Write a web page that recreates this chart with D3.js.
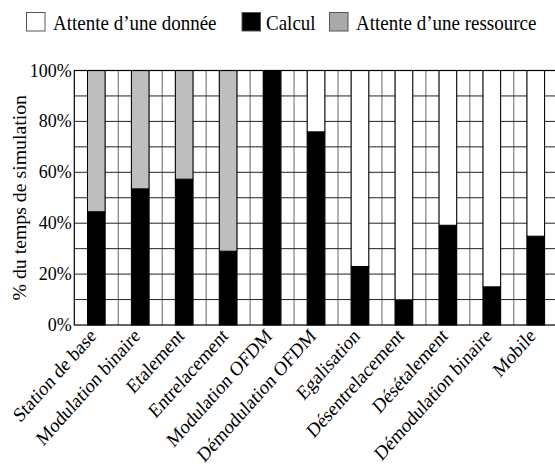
<!DOCTYPE html>
<html><head><meta charset="utf-8">
<script src="https://cdn.jsdelivr.net/npm/d3@7"></script>
<style>body{margin:0;background:#fff}svg{display:block}</style>
</head><body><svg id="c" width="555" height="469"></svg>
<script>
const categories = ["Station de base","Modulation binaire","Etalement","Entrelacement","Modulation OFDM","Démodulation OFDM","Egalisation","Désentrelacement","Désétalement","Démodulation binaire","Mobile"];
const calcul =    [44.5, 53.5, 57.3, 29.0, 100, 75.9, 23.0, 9.9, 39.2, 15.0, 34.9];
const ressource = [55.5, 46.5, 42.7, 71.0, 0, 0, 0, 0, 0, 0, 0];
const donnee =    [0, 0, 0, 0, 0, 24.1, 77.0, 90.1, 60.8, 85.0, 65.1];
const seriesNames = ["Attente d’une donnée","Calcul","Attente d’une ressource"];
const yTicks = [0,20,40,60,80,100];
const yGrid = [10,20,30,40,50,60,70,80,90];
const yLabel = "% du temps de simulation";

const svg = d3.select("#c");
const L = 74.3, T = 70.5, B = 325;
const x = d3.scaleBand().domain(categories).range([L, L + 11*43.95]).paddingInner(0.6).paddingOuter(0.3);
const y = d3.scaleLinear().domain([0,100]).range([B, T]);
const R = L + 11*43.95;

const vx = [];
categories.forEach((c,i)=>{ vx.push(x(c)); vx.push(x(c)+x.bandwidth()); if(i<categories.length-1) vx.push(x(c)+x.bandwidth()+ (x.step()-x.bandwidth())/2); });
svg.append("g").selectAll("line").data(vx).join("line")
  .attr("x1",d=>d).attr("x2",d=>d).attr("y1",T).attr("y2",B)
  .attr("stroke","#666").attr("stroke-width",1);
svg.append("g").selectAll("line").data(yGrid).join("line")
  .attr("x1",L).attr("x2",R).attr("y1",d=>y(d)).attr("y2",d=>y(d))
  .attr("stroke","#222").attr("stroke-width",1);

const rows = categories.map((c,i)=>({cat:c, calcul:calcul[i], ressource:ressource[i], donnee:donnee[i]}));
const stack = d3.stack().keys(["calcul","ressource","donnee"])(rows);
const fills = {calcul:"#000", ressource:"#bebebe", donnee:"#fff"};
stack.forEach(s=>{
  svg.append("g").selectAll("rect").data(s.filter(d=>d[1]-d[0]>0)).join("rect")
    .attr("x",d=>x(d.data.cat)).attr("width",x.bandwidth())
    .attr("y",d=>y(d[1])).attr("height",d=>y(d[0])-y(d[1]))
    .attr("fill",fills[s.key]).attr("stroke","#000").attr("stroke-width",1);
});

svg.append("rect").attr("x",L).attr("y",T).attr("width",R-L).attr("height",B-T)
  .attr("fill","none").attr("stroke","#000").attr("stroke-width",1.2);

const txt = (sel, size) => sel.style("font-family",'"Liberation Serif"').attr("fill","#000").style("font-size",size+"px");

svg.append("g").selectAll("text").data(yTicks).join("text")
  .attr("transform",d=>`translate(${L-2.5},${y(d)+6}) scale(1,1.1)`).attr("text-anchor","end")
  .call(txt,18).text(d=>d+"%");
svg.append("text").attr("transform",`translate(26,${(T+B)/2}) rotate(-90) scale(1.1,1)`)
  .attr("text-anchor","middle").call(txt,18).text(yLabel);

svg.append("g").selectAll("text").data(categories).join("text")
  .attr("transform",d=>`translate(${x(d)+x.bandwidth()/2+1},${B+12}) scale(1,1.12) rotate(-45)`)
  .attr("text-anchor","end").call(txt,18).text(d=>d);

const leg = [{n:seriesNames[0],f:"#fff",bx:26.5,tx:53},{n:seriesNames[1],f:"#000",bx:242,tx:266},{n:seriesNames[2],f:"#aaa",bx:329.5,tx:356}];
leg.forEach(l=>{
  svg.append("rect").attr("x",l.bx).attr("y",12.5).attr("width",18.5).attr("height",18.5)
    .attr("fill",l.f).attr("stroke","#555").attr("stroke-width",1);
  svg.append("text").attr("transform",`translate(${l.tx},30) scale(1,1.1)`).call(txt,19).text(l.n);
});
</script></body></html>
